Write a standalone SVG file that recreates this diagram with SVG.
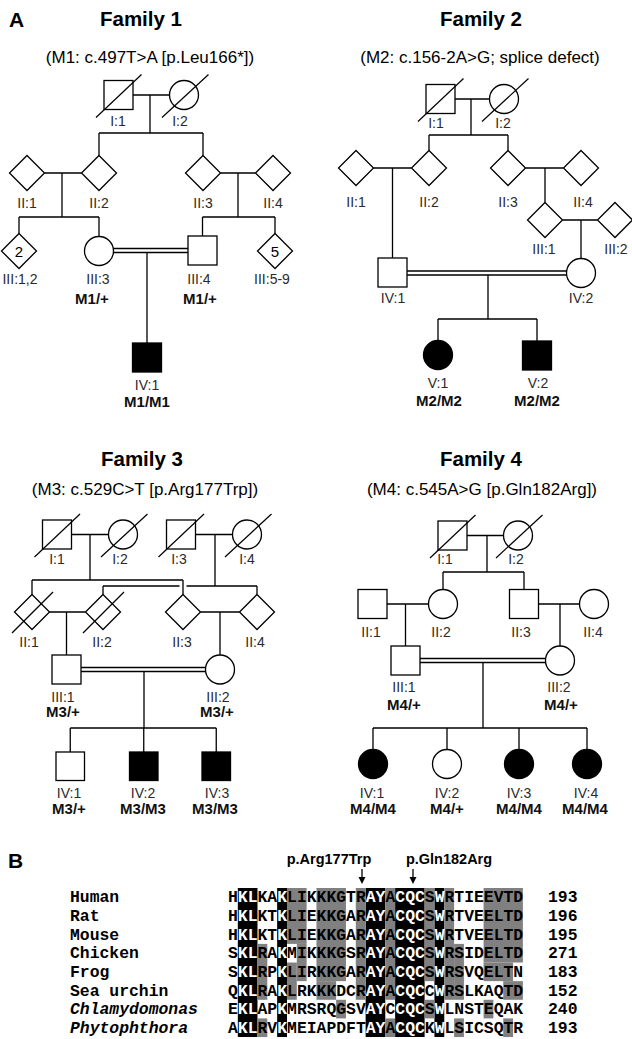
<svg xmlns="http://www.w3.org/2000/svg" width="632" height="1039" viewBox="0 0 632 1039">
<style>
.ln{stroke:#000;stroke-width:1.3;fill:none}
.s{fill:#fff;stroke:#000;stroke-width:1.3}
.a{fill:#000;stroke:#000;stroke-width:1.3}
.d{stroke:#000;stroke-width:1.2}
text{font-family:"Liberation Sans",Arial,sans-serif}
.lb{font-size:14px;fill:#2a2a2a;text-anchor:middle}
.gt{font-size:15px;font-weight:bold;fill:#111;text-anchor:middle}
.tt{font-size:20.5px;font-weight:bold;text-anchor:middle}
.sb{font-size:17px;text-anchor:middle}
.pn{font-size:21px;font-weight:bold}
.nm{font-size:15px;text-anchor:middle}
.mono text{font-family:"Liberation Mono","Courier New",monospace;font-size:16.4px;font-weight:bold}
.w{fill:#fff}
.g{fill:#808080}
.k{fill:#000}
.it{font-style:italic}
.al{font-size:14.5px;font-weight:bold;text-anchor:middle}
</style>
<rect width="632" height="1039" fill="#fff"/>

<text class="pn" x="9" y="27">A</text>
<text class="tt" x="141" y="26">Family 1</text>
<text class="sb" x="150" y="63">(M1: c.497T&gt;A [p.Leu166*])</text>
<text class="tt" x="481" y="26">Family 2</text>
<text class="sb" x="480" y="63">(M2: c.156-2A&gt;G; splice defect)</text>
<text class="tt" x="142" y="466">Family 3</text>
<text class="sb" x="145" y="494.5">(M3: c.529C&gt;T [p.Arg177Trp])</text>
<text class="tt" x="481" y="466">Family 4</text>
<text class="sb" x="482" y="494.5">(M4: c.545A&gt;G [p.Gln182Arg])</text>

<g id="connectors" class="ln">
<!-- Family 1 -->
<path d="M133 95H169.5M150 95V133M99 133H203M99 133V155.5M203 133V155.5M44.5 173H81.5M62 173V217M220.5 173H255.5M238 173V217M19 217H99M19 217V233.5M99 217V236.5M202.5 217H275M202.5 217V236M275 217V233.5M113.4 248.5H188M113.4 252.5H188M147 252.5V343"/>
<!-- Family 2 -->
<path d="M455 99H489.5M471 99V135M429 135H508M429 135V150.5M508 135V150.5M373.5 168H411.5M392.5 168V258M525.5 168H563.5M545 168V202.5M562.5 220H597.5M581 220V258.5M407 271H566.8M407 275H566.8M488 275V319M438 319H537M438 319V340.5M537 319V341"/>
<!-- Family 3 -->
<path d="M71.5 534.5H108.5M90 534.5V580M195.5 534.5H232.5M215 534.5V586M32 580H183M32 580V594.5M183 580V594.5M103 586H179.5M186.5 586H257M103 586V594.5M257 586V594.5M49.5 612H85.5M66.5 612V655M200.5 612H239.5M220 612V655M81 667.5H205.8M81 671.5H205.8M144 671.5V728M70.25 728H216.25M70.25 728V752M143.75 728V752M216.25 728V752"/>
<!-- Family 4 -->
<path d="M467 535.5H503.5M487 535.5V572M443 572H524M443 572V589.5M524 572V589.5M387 604H428.5M405.5 604V646M538.5 604H579.5M560 604V646M420 658.5H545.8M420 662.5H545.8M483 662.5V728M373 728H587M373 728V749.5M447 728V749.5M519 728V749.5M587 728V749.5"/>
</g>

<!-- Family 1 nodes -->
<g id="f1-I1"><rect class="s" x="104" y="80.5" width="29" height="29"/><line class="d" x1="96" y1="117.5" x2="141.5" y2="74.5"/><text class="lb" x="118" y="125.5">I:1</text></g>
<g id="f1-I2"><circle class="s" cx="184" cy="95" r="14.5"/><line class="d" x1="162" y1="117.5" x2="208.5" y2="74.5"/><text class="lb" x="180" y="125.5">I:2</text></g>
<g id="f1-II1"><polygon class="s" points="27,155.5 44.5,173 27,190.5 9.5,173"/><text class="lb" x="27" y="208">II:1</text></g>
<g id="f1-II2"><polygon class="s" points="99,155.5 116.5,173 99,190.5 81.5,173"/><text class="lb" x="99" y="208">II:2</text></g>
<g id="f1-II3"><polygon class="s" points="203,155.5 220.5,173 203,190.5 185.5,173"/><text class="lb" x="203" y="208">II:3</text></g>
<g id="f1-II4"><polygon class="s" points="273,155.5 290.5,173 273,190.5 255.5,173"/><text class="lb" x="273" y="208">II:4</text></g>
<g id="f1-III1-2"><polygon class="s" points="19,233.5 36.5,251 19,268.5 1.5,251"/><text class="nm" x="19" y="256.5">2</text><text class="lb" x="20" y="284">III:1,2</text></g>
<g id="f1-III3"><circle class="s" cx="99" cy="251" r="14.5"/><text class="lb" x="98" y="284">III:3</text><text class="gt" x="92" y="304">M1/+</text></g>
<g id="f1-III4"><rect class="s" x="188" y="236" width="29" height="29"/><text class="lb" x="199" y="284">III:4</text><text class="gt" x="200" y="304">M1/+</text></g>
<g id="f1-III5-9"><polygon class="s" points="275,233.5 292.5,251 275,268.5 257.5,251"/><text class="nm" x="275" y="256.5">5</text><text class="lb" x="272" y="284">III:5-9</text></g>
<g id="f1-IV1"><rect class="a" x="132.5" y="343" width="29" height="29"/><text class="lb" x="147" y="390">IV:1</text><text class="gt" x="147" y="407">M1/M1</text></g>

<!-- Family 2 nodes -->
<g id="f2-I1"><rect class="s" x="426" y="84.5" width="29" height="29"/><line class="d" x1="418" y1="121.5" x2="463.5" y2="78.5"/><text class="lb" x="436" y="128">I:1</text></g>
<g id="f2-I2"><circle class="s" cx="504" cy="99" r="14.5"/><line class="d" x1="482" y1="121.5" x2="528.5" y2="78.5"/><text class="lb" x="503" y="128">I:2</text></g>
<g id="f2-II1"><polygon class="s" points="356,150.5 373.5,168 356,185.5 338.5,168"/><text class="lb" x="356" y="207">II:1</text></g>
<g id="f2-II2"><polygon class="s" points="429,150.5 446.5,168 429,185.5 411.5,168"/><text class="lb" x="429" y="207">II:2</text></g>
<g id="f2-II3"><polygon class="s" points="508,150.5 525.5,168 508,185.5 490.5,168"/><text class="lb" x="508" y="207">II:3</text></g>
<g id="f2-II4"><polygon class="s" points="581,150.5 598.5,168 581,185.5 563.5,168"/><text class="lb" x="583" y="207">II:4</text></g>
<g id="f2-III1"><polygon class="s" points="545,202.5 562.5,220 545,237.5 527.5,220"/><text class="lb" x="544" y="254">III:1</text></g>
<g id="f2-III2"><polygon class="s" points="615,202.5 632.5,220 615,237.5 597.5,220"/><text class="lb" x="616" y="254">III:2</text></g>
<g id="f2-IV1"><rect class="s" x="378" y="258" width="29" height="29"/><text class="lb" x="393" y="303">IV:1</text></g>
<g id="f2-IV2"><circle class="s" cx="581" cy="273" r="14.5"/><text class="lb" x="581" y="303">IV:2</text></g>
<g id="f2-V1"><circle class="a" cx="438" cy="355" r="14.5"/><text class="lb" x="438" y="388">V:1</text><text class="gt" x="439" y="406">M2/M2</text></g>
<g id="f2-V2"><rect class="a" x="522.5" y="341" width="29" height="29"/><text class="lb" x="538" y="388">V:2</text><text class="gt" x="537" y="406">M2/M2</text></g>

<!-- Family 3 nodes -->
<g id="f3-I1"><rect class="s" x="42.5" y="520" width="29" height="29"/><line class="d" x1="34.5" y1="557" x2="80" y2="514"/><text class="lb" x="57" y="564">I:1</text></g>
<g id="f3-I2"><circle class="s" cx="123" cy="534.5" r="14.5"/><line class="d" x1="101" y1="557" x2="147.5" y2="514"/><text class="lb" x="120" y="564">I:2</text></g>
<g id="f3-I3"><rect class="s" x="166.5" y="520" width="29" height="29"/><line class="d" x1="158.5" y1="557" x2="204" y2="514"/><text class="lb" x="179" y="564">I:3</text></g>
<g id="f3-I4"><circle class="s" cx="247" cy="534.5" r="14.5"/><line class="d" x1="225" y1="557" x2="271.5" y2="514"/><text class="lb" x="247" y="564">I:4</text></g>
<g id="f3-II1"><polygon class="s" points="32,594.5 49.5,612 32,629.5 14.5,612"/><line class="d" x1="12" y1="633" x2="53" y2="592"/><text class="lb" x="29" y="647">II:1</text></g>
<g id="f3-II2"><polygon class="s" points="103,594.5 120.5,612 103,629.5 85.5,612"/><line class="d" x1="83" y1="633" x2="124" y2="592"/><text class="lb" x="102" y="647">II:2</text></g>
<g id="f3-II3"><polygon class="s" points="183,594.5 200.5,612 183,629.5 165.5,612"/><text class="lb" x="182" y="647">II:3</text></g>
<g id="f3-II4"><polygon class="s" points="257,594.5 274.5,612 257,629.5 239.5,612"/><text class="lb" x="255" y="647">II:4</text></g>
<g id="f3-III1"><rect class="s" x="52" y="655" width="29" height="29"/><text class="lb" x="63" y="702">III:1</text><text class="gt" x="63" y="717">M3/+</text></g>
<g id="f3-III2"><circle class="s" cx="220" cy="669.5" r="14.5"/><text class="lb" x="218" y="702">III:2</text><text class="gt" x="217" y="717">M3/+</text></g>
<g id="f3-IV1"><rect class="s" x="56" y="752" width="28.5" height="28.5"/><text class="lb" x="69" y="798">IV:1</text><text class="gt" x="69" y="814">M3/+</text></g>
<g id="f3-IV2"><rect class="a" x="129.5" y="752" width="28.5" height="28.5"/><text class="lb" x="143" y="798">IV:2</text><text class="gt" x="143" y="814">M3/M3</text></g>
<g id="f3-IV3"><rect class="a" x="202" y="752" width="28.5" height="28.5"/><text class="lb" x="217" y="798">IV:3</text><text class="gt" x="215" y="814">M3/M3</text></g>

<!-- Family 4 nodes -->
<g id="f4-I1"><rect class="s" x="438" y="521" width="29" height="29"/><line class="d" x1="430" y1="558" x2="475.5" y2="515"/><text class="lb" x="445" y="564">I:1</text></g>
<g id="f4-I2"><circle class="s" cx="518" cy="535.5" r="14.5"/><line class="d" x1="496" y1="558" x2="542.5" y2="515"/><text class="lb" x="516" y="564">I:2</text></g>
<g id="f4-II1"><rect class="s" x="358" y="589.5" width="29" height="29"/><text class="lb" x="371" y="637">II:1</text></g>
<g id="f4-II2"><circle class="s" cx="443" cy="604" r="14.5"/><text class="lb" x="441" y="637">II:2</text></g>
<g id="f4-II3"><rect class="s" x="509.5" y="589.5" width="29" height="29"/><text class="lb" x="521" y="637">II:3</text></g>
<g id="f4-II4"><circle class="s" cx="594" cy="604" r="14.5"/><text class="lb" x="593" y="637">II:4</text></g>
<g id="f4-III1"><rect class="s" x="391" y="646" width="29" height="29"/><text class="lb" x="404" y="692">III:1</text><text class="gt" x="404" y="710">M4/+</text></g>
<g id="f4-III2"><circle class="s" cx="560" cy="660.5" r="14.5"/><text class="lb" x="559" y="692">III:2</text><text class="gt" x="561" y="710">M4/+</text></g>
<g id="f4-IV1"><circle class="a" cx="373" cy="764" r="14.5"/><text class="lb" x="372" y="798">IV:1</text><text class="gt" x="373" y="814">M4/M4</text></g>
<g id="f4-IV2"><circle class="s" cx="447" cy="764" r="14.5"/><text class="lb" x="447" y="798">IV:2</text><text class="gt" x="447" y="814">M4/+</text></g>
<g id="f4-IV3"><circle class="a" cx="519" cy="764" r="14.5"/><text class="lb" x="519" y="798">IV:3</text><text class="gt" x="519" y="814">M4/M4</text></g>
<g id="f4-IV4"><circle class="a" cx="587" cy="764" r="14.5"/><text class="lb" x="586" y="798">IV:4</text><text class="gt" x="585" y="814">M4/M4</text></g>

<!-- Panel B -->
<text class="pn" x="8" y="868">B</text>
<g id="arrows">
<text class="al" x="329" y="864">p.Arg177Trp</text>
<text class="al" x="449" y="864">p.Gln182Arg</text>
<line class="ln" x1="362" y1="869" x2="362" y2="878"/><polygon points="358.5,877 365.5,877 362,884"/>
<line class="ln" x1="413" y1="869" x2="413" y2="878"/><polygon points="409.5,877 416.5,877 413,884"/>
</g>
<g id="shading">
<g class="k">
<rect x="237.83" y="888" width="19.66" height="149"/>
<rect x="277.15" y="888" width="9.83" height="149"/>
<rect x="365.62" y="888" width="19.66" height="149"/>
<rect x="395.11" y="888" width="29.49" height="149"/>
<rect x="434.43" y="888" width="9.83" height="149"/>
</g>
<g class="g">
<rect x="257.49" y="943.89" width="9.83" height="55.89"/>
<rect x="257.49" y="1018.41" width="9.83" height="18.63"/>
<rect x="286.98" y="888" width="19.66" height="55.89"/>
<rect x="296.81" y="943.89" width="9.83" height="37.26"/>
<rect x="286.98" y="962.52" width="9.83" height="37.26"/>
<rect x="316.47" y="888" width="29.49" height="93.15"/>
<rect x="316.47" y="981.15" width="19.66" height="18.63"/>
<rect x="336.13" y="999.78" width="9.83" height="18.63"/>
<rect x="355.79" y="888" width="9.83" height="111.78"/>
<rect x="385.28" y="888" width="9.83" height="111.78"/>
<rect x="385.28" y="1018.41" width="9.83" height="18.63"/>
<rect x="424.6" y="888" width="9.83" height="93.15"/>
<rect x="424.6" y="999.78" width="9.83" height="18.63"/>
<rect x="444.26" y="888" width="9.83" height="111.78"/>
<rect x="454.09" y="943.89" width="9.83" height="55.89"/>
<rect x="454.09" y="1018.41" width="9.83" height="18.63"/>
<rect x="483.58" y="888" width="39.32" height="74.52"/>
<rect x="483.58" y="962.52" width="29.49" height="18.63"/>
<rect x="503.24" y="981.15" width="19.66" height="18.63"/>
<rect x="483.58" y="999.78" width="9.83" height="18.63"/>
<rect x="503.24" y="1018.41" width="9.83" height="18.63"/>
</g>
</g>
<g id="species" class="mono">
<text x="70" y="902.3">Human</text>
<text x="70" y="920.9">Rat</text>
<text x="70" y="939.6">Mouse</text>
<text x="70" y="958.2">Chicken</text>
<text x="70" y="976.8">Frog</text>
<text x="70" y="995.5">Sea urchin</text>
<text class="it" x="70" y="1014.1">Chlamydomonas</text>
<text class="it" x="70" y="1032.7">Phytophthora</text>
</g>
<g id="sequences" class="mono">
<text x="228" y="902.3">H<tspan class="w">KL</tspan>KA<tspan class="w">K</tspan>LIKKKGTR<tspan class="w">AY</tspan>A<tspan class="w">CQC</tspan>S<tspan class="w">W</tspan>RTIEEVTD</text>
<text x="228" y="920.9">H<tspan class="w">KL</tspan>KT<tspan class="w">K</tspan>LIEKKGAR<tspan class="w">AY</tspan>A<tspan class="w">CQC</tspan>S<tspan class="w">W</tspan>RTVEELTD</text>
<text x="228" y="939.6">H<tspan class="w">KL</tspan>KT<tspan class="w">K</tspan>LIEKKGAR<tspan class="w">AY</tspan>A<tspan class="w">CQC</tspan>S<tspan class="w">W</tspan>RTVEELTD</text>
<text x="228" y="958.2">S<tspan class="w">KL</tspan>RA<tspan class="w">K</tspan>MIKKKGSR<tspan class="w">AY</tspan>A<tspan class="w">CQC</tspan>S<tspan class="w">W</tspan>RSIDELTD</text>
<text x="228" y="976.8">S<tspan class="w">KL</tspan>RP<tspan class="w">K</tspan>LIRKKGAR<tspan class="w">AY</tspan>A<tspan class="w">CQC</tspan>S<tspan class="w">W</tspan>RSVQELTN</text>
<text x="228" y="995.5">Q<tspan class="w">KL</tspan>RA<tspan class="w">K</tspan>LRKKKDCR<tspan class="w">AY</tspan>A<tspan class="w">CQC</tspan>C<tspan class="w">W</tspan>RSLKAQTD</text>
<text x="228" y="1014.1">E<tspan class="w">KL</tspan>AP<tspan class="w">K</tspan>MRSRQGSV<tspan class="w">AY</tspan>C<tspan class="w">CQC</tspan>S<tspan class="w">W</tspan>LNSTEQAK</text>
<text x="228" y="1032.7">A<tspan class="w">KL</tspan>RV<tspan class="w">K</tspan>MEIAPDFT<tspan class="w">AY</tspan>A<tspan class="w">CQC</tspan>K<tspan class="w">W</tspan>LSICSQTR</text>
</g>
<g id="lengths" class="mono">
<text x="548" y="902.3">193</text>
<text x="548" y="920.9">196</text>
<text x="548" y="939.6">195</text>
<text x="548" y="958.2">271</text>
<text x="548" y="976.8">183</text>
<text x="548" y="995.5">152</text>
<text x="548" y="1014.1">240</text>
<text x="548" y="1032.7">193</text>
</g>
</svg>
